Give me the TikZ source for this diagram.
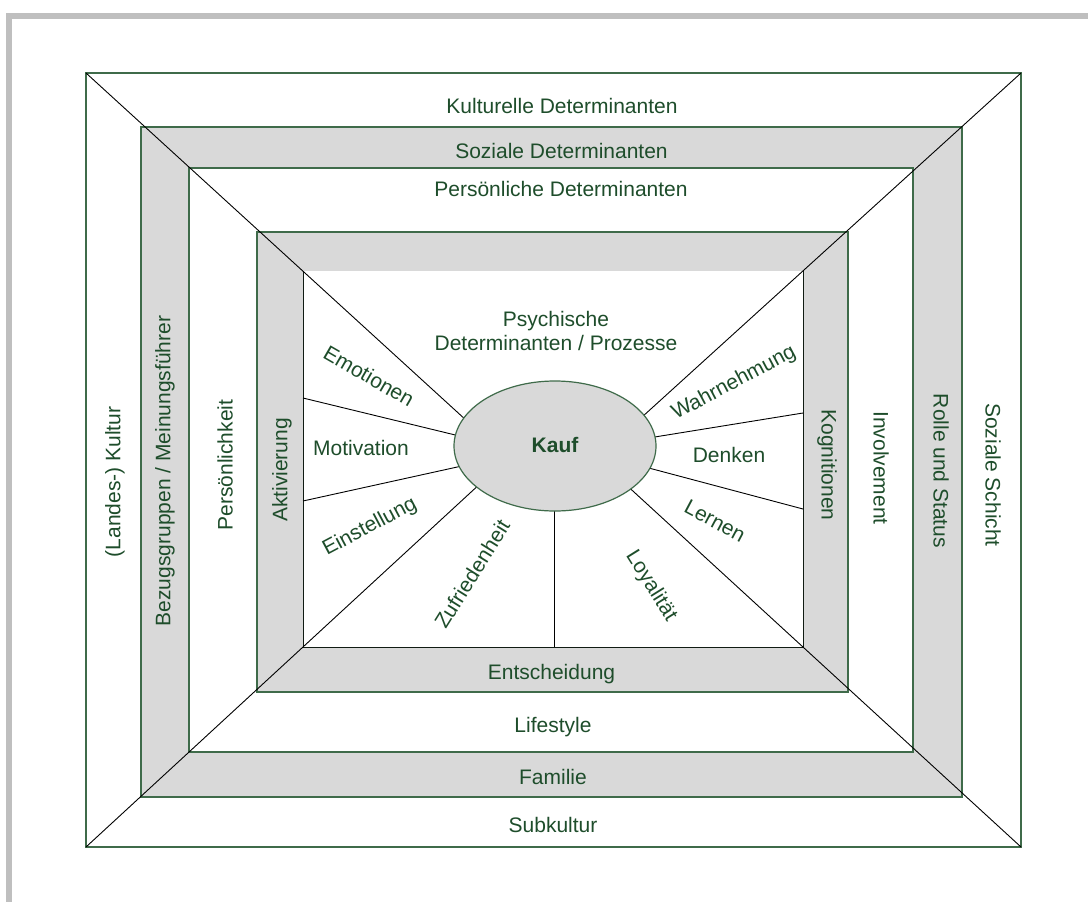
\documentclass[tikz,border=0pt]{standalone}
\usepackage{fontspec}
\setmainfont{Liberation Sans}
\usetikzlibrary{shapes.geometric,calc}
\definecolor{txt}{HTML}{1E4D2B}
\definecolor{edge}{HTML}{3F6B4A}
\definecolor{bandgray}{HTML}{D9D9D9}
\definecolor{framegray}{HTML}{BFBFBF}
\begin{document}
\begin{tikzpicture}[x=1pt,y=-1pt,
  lbl/.style={text=txt,font=\fontsize{21}{24}\selectfont,inner sep=0pt},
  hl/.style={lbl,anchor=base},
  boxline/.style={draw=edge,line width=1.2pt},
  spoke/.style={draw=black,line width=0.9pt}]
\useasboundingbox (0,0) rectangle (1088,902);
% frame
\fill[framegray] (6,13) rectangle (1088,19);
\fill[framegray] (6,13) rectangle (12,902);
% bands
\path[boxline,fill=white] (86,73) rectangle (1021,847);
\path[boxline,fill=bandgray] (141,127) rectangle (962,797);
\path[boxline,fill=white] (189,168) rectangle (913,752);
\path[boxline,fill=bandgray] (257,232) rectangle (848,692);
\fill[white] (303,271) rectangle (803,647);
\draw[black!75!edge,line width=1pt] (303,271) -- (303,647) -- (803,647) -- (803,271);
% spoke coordinates
\coordinate (tl) at (86,73);
\coordinate (tr) at (1021,73);
\coordinate (bl) at (86,847);
\coordinate (br) at (1021,847);
\coordinate (tli) at (490,442);
\coordinate (tri) at (620,437);
\coordinate (bli) at (495,470);
\coordinate (bri) at (610,470);
\coordinate (l1) at (303,398);
\coordinate (l1i) at (480,441);
\coordinate (l2) at (303,501);
\coordinate (l2i) at (480,462);
\coordinate (r1) at (803,413);
\coordinate (r1i) at (630,441);
\coordinate (r2) at (803,509);
\coordinate (r2i) at (630,463);
\coordinate (bm) at (554,647);
\coordinate (bmi) at (554,480);
\draw[spoke] (tl) -- (tli);
\draw[spoke] (tr) -- (tri);
\draw[spoke] (bl) -- (bli);
\draw[spoke] (br) -- (bri);
\draw[spoke] (l1) -- (l1i);
\draw[spoke] (l2) -- (l2i);
\draw[spoke] (r1) -- (r1i);
\draw[spoke] (r2) -- (r2i);
\draw[spoke] (bm) -- (bmi);
% center
\node[ellipse,draw=edge,line width=1.2pt,fill=bandgray,minimum width=202pt,minimum height=130pt,inner sep=0pt] (kauf) at (555,446) {};
\node[hl,font=\fontsize{21}{24}\selectfont\bfseries] (kauft) at (555,452) {Kauf};
% horizontal labels
\node[hl] (kult) at (562,113) {Kulturelle Determinanten};
\node[hl] (soz) at (561.5,158) {Soziale Determinanten};
\node[hl] (pers) at (561,196) {Persönliche Determinanten};
\node[hl] (psy1) at (556,326) {Psychische};
\node[hl] (psy2) at (556,350) {Determinanten / Prozesse};
\node[hl] (moti) at (361,455) {Motivation};
\node[hl] (denk) at (729,462) {Denken};
\node[hl] (ents) at (551.5,679) {Entscheidung};
\node[hl] (life) at (553,732) {Lifestyle};
\node[hl] (fam) at (553,784) {Familie};
\node[hl] (sub) at (553,832) {Subkultur};
% slanted labels
\node[lbl,rotate=-30] (emo) at (369,376) {Emotionen};
\node[lbl,rotate=28] (einst) at (370,527) {Einstellung};
\node[lbl,rotate=58] (zuf) at (472,574) {Zufriedenheit};
\node[lbl,rotate=-58] (loy) at (651,586) {Loyalität};
\node[lbl,rotate=-28] (lern) at (715,521) {Lernen};
\node[lbl,rotate=28] (wahr) at (734,383) {Wahrnehmung};
% vertical labels
\node[lbl,rotate=90] (land) at (115,482) {(Landes-) Kultur};
\node[lbl,rotate=90] (bez) at (165,471) {Bezugsgruppen / Meinungsführer};
\node[lbl,rotate=90] (perk) at (225,465) {Persönlichkeit};
\node[lbl,rotate=90] (akt) at (282,470) {Aktivierung};
\node[lbl,rotate=-90] (kog) at (827,465) {Kognitionen};
\node[lbl,rotate=-90] (inv) at (881,468) {Involvement};
\node[lbl,rotate=-90] (rol) at (941,471) {Rolle und Status};
\node[lbl,rotate=-90] (schi) at (993,475) {Soziale Schicht};
\end{tikzpicture}
\end{document}
